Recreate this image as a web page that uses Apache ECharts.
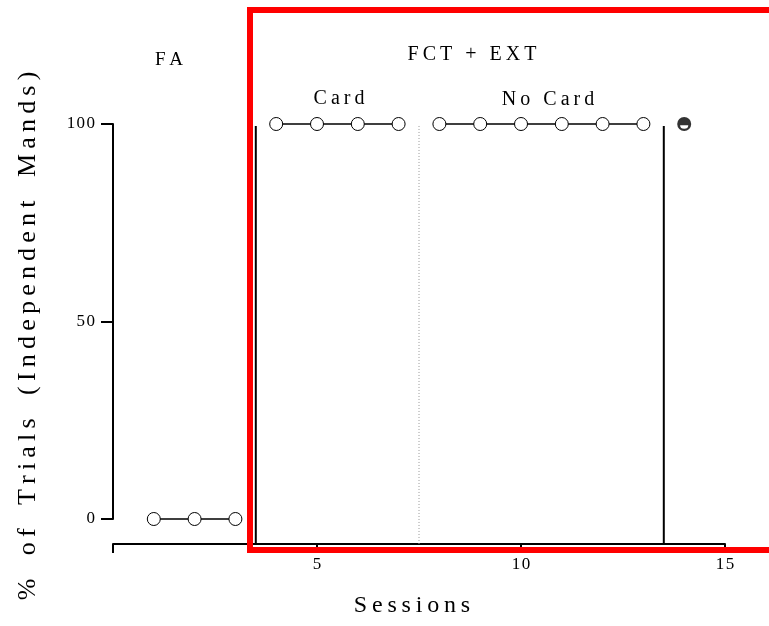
<!DOCTYPE html>
<html>
<head>
<meta charset="utf-8">
<title>Independent Mands</title>
<script src="https://cdn.jsdelivr.net/npm/echarts@6/dist/echarts.min.js"></script>
<style>
  html, body { margin: 0; padding: 0; background: #fff; }
  #chart { width: 769px; height: 626px; }
</style>
</head>
<body>
<div id="chart"></div>
<script>
// Sessions and percentage of trials with independent mands, by phase
const faSessions = [1, 2, 3];
const faValues = [0, 0, 0];
const cardSessions = [4, 5, 6, 7];
const cardValues = [100, 100, 100, 100];
const noCardSessions = [8, 9, 10, 11, 12, 13];
const noCardValues = [100, 100, 100, 100, 100, 100];
const followSessions = [14];
const followValues = [100];

// Phase-change lines (session boundaries)
const phaseLinesSolid = [3.5, 13.5];
const phaseLinesDotted = [7.5];

const xTicks = [5, 10, 15];
const yTicks = [0, 50, 100];

const FONT = '"Liberation Serif", "Times New Roman", serif';
const THIN = '\u2009';
const HAIR = '\u200A';
// letter-spaced text; word gaps can be widened a little more
function spaced(s, sp, wordGap) {
  return Array.from(s).join(sp || THIN).replace(/ /g, wordGap || ' ');
}

function pairs(xs, ys) {
  return xs.map((x, i) => [x, ys[i]]);
}

// half-filled circle: dark disc with a white lower band cut out
const halfFilled = 'path://M0,12 A12,12 0 1,1 24,12 A12,12 0 1,1 0,12 Z M19,14 L5,14 A7,6 0 0,0 19,14 Z';

const lineStyle = { color: '#000', width: 1.5 };
const openCircle = { color: '#fff', borderColor: '#000', borderWidth: 1 };

const X_OFFSET = 25;

const chart = echarts.init(document.getElementById('chart'), null, { renderer: 'canvas' });

chart.setOption({
  animation: false,
  backgroundColor: '#fff',
  grid: { left: 113, top: 124, width: 612, height: 395 },
  xAxis: {
    type: 'value',
    min: 0, max: 15, interval: 5,
    offset: X_OFFSET,
    name: spaced('Sessions'),
    nameLocation: 'middle',
    nameGap: 50,
    nameTextStyle: { fontFamily: FONT, fontSize: 24, color: '#000', padding: [0, 14, 0, 0] },
    axisLine: { show: true, onZero: false, lineStyle: { color: '#000', width: 2 } },
    axisTick: { show: true, length: 9, lineStyle: { color: '#000', width: 2 } },
    axisLabel: {
      margin: 12,
      fontFamily: FONT, fontSize: 17, color: '#000',
      formatter: v => (xTicks.includes(v) ? spaced(String(v), HAIR) : '')
    },
    splitLine: { show: false }
  },
  yAxis: {
    type: 'value',
    min: 0, max: 100, interval: 50,
    offset: 2,
    axisLine: { show: true, lineStyle: { color: '#000', width: 2 } },
    axisTick: { show: true, length: 12, lineStyle: { color: '#000', width: 2 } },
    axisLabel: {
      margin: 16,
      fontFamily: FONT, fontSize: 17, color: '#000',
      formatter: v => (yTicks.includes(v) ? spaced(String(v), HAIR) : '')
    },
    splitLine: { show: false }
  },
  series: [
    {
      name: 'Phase lines', type: 'custom',
      silent: true, clip: false,
      data: phaseLinesSolid.map(x => [x, 0]).concat(phaseLinesDotted.map(x => [x, 1])),
      renderItem: (params, api) => {
        const x = api.value(0);
        const top = api.coord([x, 99.5]);
        const base = api.coord([x, 0]);
        const dotted = api.value(1) === 1;
        return {
          type: 'line',
          shape: { x1: top[0], y1: top[1], x2: top[0], y2: base[1] + X_OFFSET },
          style: dotted
            ? { stroke: '#999', lineWidth: 1, lineDash: [1, 2] }
            : { stroke: '#000', lineWidth: 2 }
        };
      }
    },
    {
      name: 'FA', type: 'line',
      data: pairs(faSessions, faValues),
      symbol: 'circle', symbolSize: 13,
      lineStyle, itemStyle: openCircle,
      clip: false
    },
    {
      name: 'Card', type: 'line',
      data: pairs(cardSessions, cardValues),
      symbol: 'circle', symbolSize: 13,
      lineStyle, itemStyle: openCircle,
      clip: false
    },
    {
      name: 'No Card', type: 'line',
      data: pairs(noCardSessions, noCardValues),
      symbol: 'circle', symbolSize: 13,
      lineStyle, itemStyle: openCircle,
      clip: false
    },
    {
      name: 'Follow-up', type: 'scatter',
      data: pairs(followSessions, followValues),
      symbol: halfFilled, symbolSize: 14,
      itemStyle: { color: '#000' },
      clip: false
    }
  ],
  graphic: [
    {
      type: 'rect', silent: true, z: 10,
      shape: { x: 250, y: 10, width: 560, height: 540 },
      style: { fill: null, stroke: '#ff0000', lineWidth: 6 }
    },
    {
      type: 'text', x: 28, y: 336, rotation: Math.PI / 2,
      style: {
        text: spaced('% of Trials (Independent Mands)', THIN, '  '),
        font: '26px ' + FONT, fill: '#000', align: 'center', verticalAlign: 'middle'
      }
    },
    {
      type: 'text', x: 169, y: 60,
      style: { text: spaced('FA'), font: '19px ' + FONT, fill: '#000', align: 'center', verticalAlign: 'middle' }
    },
    {
      type: 'text', x: 472, y: 55,
      style: { text: spaced('FCT + EXT'), font: '20px ' + FONT, fill: '#000', align: 'center', verticalAlign: 'middle' }
    },
    {
      type: 'text', x: 339, y: 99,
      style: { text: spaced('Card'), font: '20px ' + FONT, fill: '#000', align: 'center', verticalAlign: 'middle' }
    },
    {
      type: 'text', x: 548, y: 100,
      style: { text: spaced('No Card'), font: '20px ' + FONT, fill: '#000', align: 'center', verticalAlign: 'middle' }
    }
  ]
});
</script>
</body>
</html>
